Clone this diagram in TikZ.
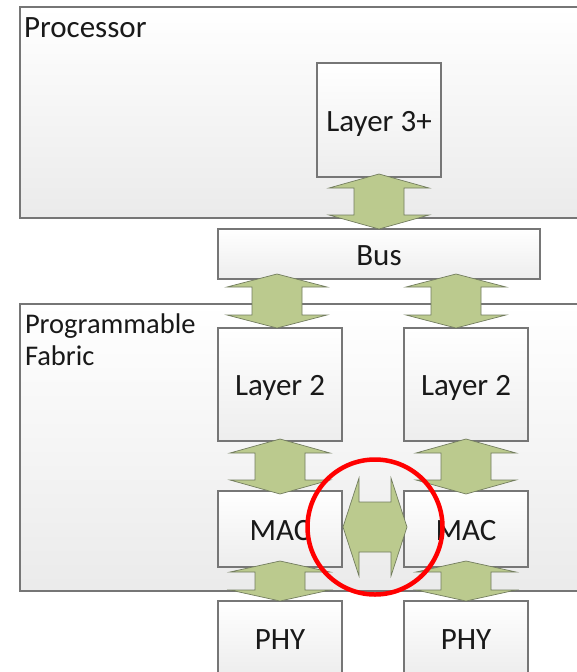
\documentclass[tikz,border=0pt]{standalone}
\usepackage{fontspec}
\setmainfont{Carlito}
\usetikzlibrary{calc}
\definecolor{arrfill}{RGB}{187,202,142}
\definecolor{arrline}{RGB}{115,125,95}
\definecolor{boxline}{RGB}{118,118,118}
\definecolor{txt}{RGB}{25,25,25}
\tikzset{
  box/.style={draw=boxline, line width=1.2pt, top color=white, bottom color=black!7,
    minimum width=124pt, inner sep=0pt, outer sep=0pt, text=txt, font=\fontsize{31}{33}\selectfont,
    text height=26pt, text depth=4pt},
  region/.style={draw=boxline, line width=1.2pt, top color=white, bottom color=black!8,
    inner sep=0pt, outer sep=0pt, anchor=north west},
  lbl/.style={inner sep=0pt, outer sep=0pt, text=txt, font=\fontsize{31}{33}\selectfont, anchor=base west},
  smalllbl/.style={lbl, font=\fontsize{28.5}{30}\selectfont},
  arr/.style={fill=arrfill, draw=arrline, line width=0.7pt, line join=miter},
  hilite/.style={draw=red, line width=4.5pt, circle, minimum size=135pt, inner sep=0pt},
}
% vertical double arrow: x, upper node, lower node, overlap above, overlap below, head length
\newcommand\vdarrow[6]{%
  \path[arr] let \p1=(#2.south), \p2=(#3.north) in
   (#1pt,\y1+#4pt) -- (#1pt+50pt,\y1+#4pt-#6pt) -- (#1pt+25pt,\y1+#4pt-#6pt)
   -- (#1pt+25pt,\y2-#5pt+#6pt) -- (#1pt+50pt,\y2-#5pt+#6pt) -- (#1pt,\y2-#5pt)
   -- (#1pt-50pt,\y2-#5pt+#6pt) -- (#1pt-25pt,\y2-#5pt+#6pt)
   -- (#1pt-25pt,\y1+#4pt-#6pt) -- (#1pt-50pt,\y1+#4pt-#6pt) -- cycle;}
\begin{document}
\begin{tikzpicture}[x=1pt,y=-1pt]
\useasboundingbox (0,0) rectangle (577,672);
\clip (0,0) rectangle (577,672);
\fill[white] (0,0) rectangle (577,672);
% regions
\node[region, minimum width=600pt, minimum height=211pt] (proc) at (20,7) {};
\node[lbl] (proct) at (24,37) {Processor};
\node[region, minimum width=600pt, minimum height=287pt] (fab) at (20,304) {};
\node[smalllbl] (fabt1) at (25,333) {Programmable};
\node[smalllbl] (fabt2) at (25,365) {Fabric};
% boxes
\node[box, minimum height=114pt] (l3) at (379,120) {Layer 3+};
\node[box, minimum width=322pt, minimum height=50pt] (bus) at (379,254) {Bus};
\node[box, minimum height=113pt] (l2a) at (280,384.5) {Layer 2};
\node[box, minimum height=113pt] (l2b) at (466,384.5) {Layer 2};
\node[box, minimum height=76pt] (maca) at (280,529) {MAC};
\node[box, minimum height=76pt] (macb) at (466,529) {MAC};
\node[box, minimum height=74pt] (phya) at (280,638) {PHY};
\node[box, minimum height=74pt] (phyb) at (466,638) {PHY};
% arrows
\vdarrow{379}{l3}{bus}{3}{0}{14}
\vdarrow{277}{bus}{l2a}{5}{0}{13}
\vdarrow{456}{bus}{l2b}{5}{0}{13}
\vdarrow{280}{l2a}{maca}{2}{3}{14}
\vdarrow{466}{l2b}{macb}{2}{3}{14}
\vdarrow{280}{maca}{phya}{6}{0}{11}
\vdarrow{466}{macb}{phyb}{6}{0}{11}
\path[arr] let \p1=(maca.east), \p2=(macb.west) in
  (\x1+1pt,-527pt) -- (\x1+17pt,-478pt) -- (\x1+17pt,-502pt) -- (\x2-13pt,-502pt)
  -- (\x2-13pt,-478pt) -- (\x2+3pt,-527pt) -- (\x2-13pt,-576pt) -- (\x2-13pt,-552pt)
  -- (\x1+17pt,-552pt) -- (\x1+17pt,-576pt) -- cycle;
% highlight
\node[hilite] (hl) at (375,527) {};
\end{tikzpicture}
\end{document}
